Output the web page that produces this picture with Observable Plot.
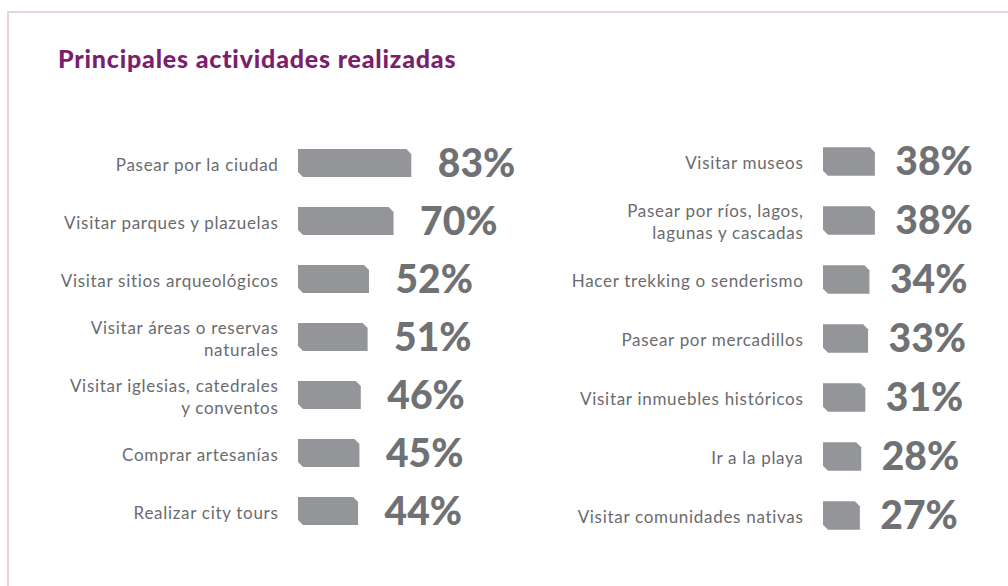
<!DOCTYPE html>
<html>
<head>
<meta charset="utf-8">
<script src="https://cdn.jsdelivr.net/npm/d3@7"></script>
<script src="https://cdn.jsdelivr.net/npm/@observablehq/plot@0.6"></script>
<style>
  html, body { margin: 0; padding: 0; background: #fff; }
  #wrap { position: relative; width: 1008px; height: 586px; overflow: hidden; font-family: Lato, "Open Sans", sans-serif; }
  #frame { position: absolute; left: 7px; top: 11px; width: 1100px; height: 700px; border: 2px solid #e6d4e3; box-sizing: border-box; }
  #title { position: absolute; left: 58px; top: 43px; font: 900 25px Lato, sans-serif; letter-spacing: 0.8px; color: #7b1e6c; white-space: nowrap; }
  #left { position: absolute; left: 0; top: 0; }
  #right { position: absolute; left: 520px; top: 0; }
</style>
</head>
<body>
<div id="wrap">
  <div id="frame"></div>
  <div id="title">Principales actividades realizadas</div>
  <div id="left"></div>
  <div id="right"></div>
</div>
<script>
const leftCategories = [
  "Pasear por la ciudad",
  "Visitar parques y plazuelas",
  "Visitar sitios arqueológicos",
  "Visitar áreas o reservas\nnaturales",
  "Visitar iglesias, catedrales\ny conventos",
  "Comprar artesanías",
  "Realizar city tours"
];
const leftValues = [83, 70, 52, 51, 46, 45, 44];

const rightCategories = [
  "Visitar museos",
  "Pasear por ríos, lagos,\nlagunas y cascadas",
  "Hacer trekking o senderismo",
  "Pasear por mercadillos",
  "Visitar inmuebles históricos",
  "Ir a la playa",
  "Visitar comunidades nativas"
];
const rightValues = [38, 38, 34, 33, 31, 28, 27];

function chamfer(index, scales, values, dimensions, context, next) {
  const g = next(index, scales, values, dimensions, context);
  const c = 5;
  for (const rect of Array.from(g.querySelectorAll("rect"))) {
    const x = +rect.getAttribute("x"), y = +rect.getAttribute("y");
    const w = +rect.getAttribute("width"), h = +rect.getAttribute("height");
    const p = document.createElementNS("http://www.w3.org/2000/svg", "path");
    p.setAttribute("d", `M${x},${y}H${x + w - c}L${x + w},${y + c}V${y + h}H${x + c}L${x},${y + h - c}Z`);
    if (rect.getAttribute("fill")) p.setAttribute("fill", rect.getAttribute("fill"));
    rect.replaceWith(p);
  }
  return g;
}

function spaced(amount) {
  return (index, scales, values, dimensions, context, next) => {
    const g = next(index, scales, values, dimensions, context);
    g.setAttribute("letter-spacing", amount);
    return g;
  };
}

function panel(cats, vals, width, x0, yFirst, yLast, pctDx) {
  const data = cats.map((c, i) => ({cat: c, v: vals[i]}));
  const step = (yLast - yFirst) / (cats.length - 1);
  const inset = (step - 29) / 2;
  return Plot.plot({
    width, height: 586,
    margin: 0,
    style: {background: "transparent", fontFamily: "Lato, sans-serif"},
    x: {domain: [0, 100], range: [x0, x0 + 136.5], axis: null},
    y: {domain: cats, range: [yFirst - step / 2, yLast + step / 2], padding: 0, axis: null},
    marks: [
      Plot.barX(data, {x: "v", y: "cat", fill: "#939598", insetTop: inset, insetBottom: inset, render: chamfer}),
      Plot.text(data, {x: 0, y: "cat", text: "cat", textAnchor: "end", dx: -20, fontSize: 17, fill: "#6a6b6e", lineHeight: 1.3, render: spaced(0.7)}),
      Plot.text(data, {x: "v", y: "cat", text: d => d.v + "%", textAnchor: "start", dx: pctDx, dy: 1, fontSize: 39, fontWeight: 900, fill: "#707174"})
    ]
  });
}

document.getElementById("left").appendChild(panel(leftCategories, leftValues, 520, 298, 161, 514, 26));
document.getElementById("right").appendChild(panel(rightCategories, rightValues, 488, 303, 161, 517, 20));
</script>
</body>
</html>
